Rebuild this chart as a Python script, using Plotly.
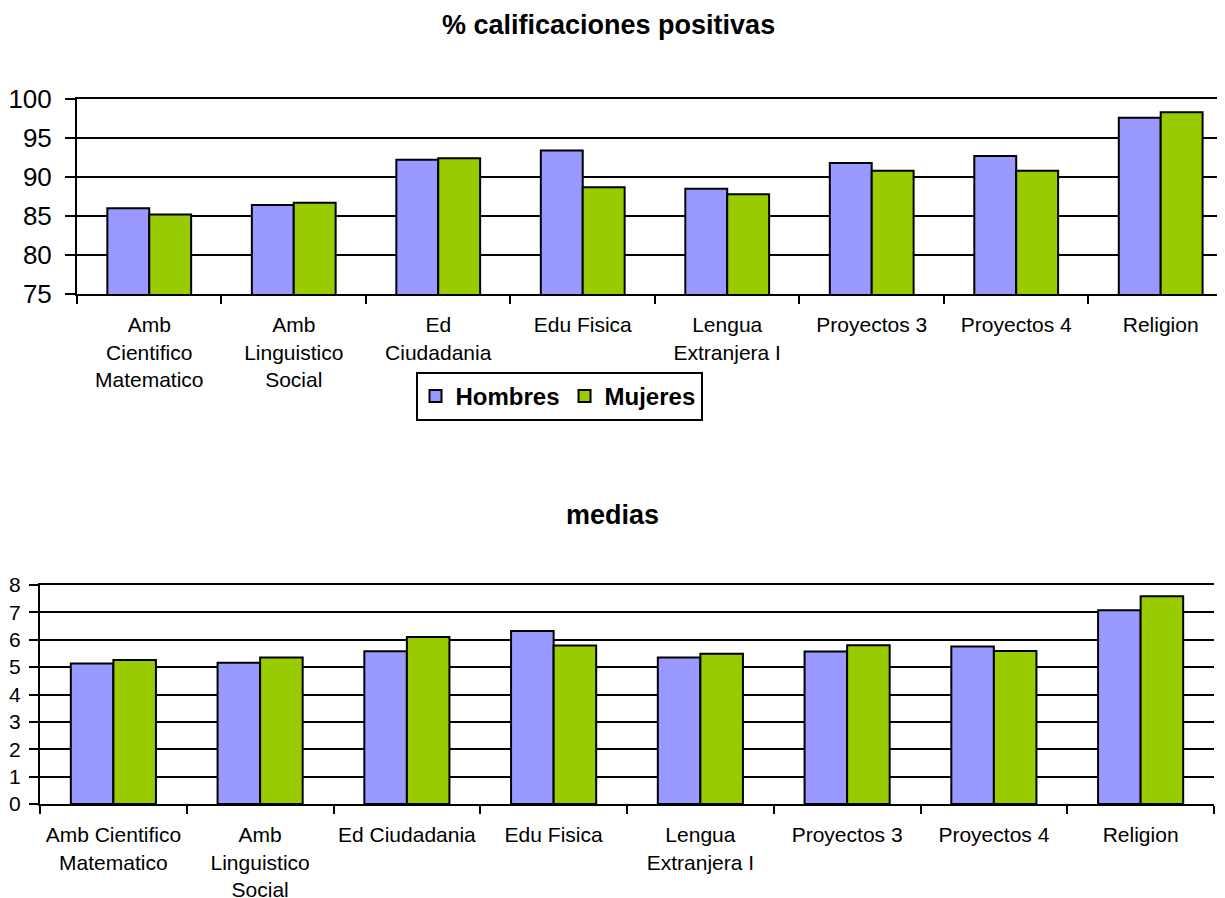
import plotly.graph_objects as go

# data
categories = ["Amb Cientifico Matematico", "Amb Linguistico Social", "Ed Ciudadania",
              "Edu Fisica", "Lengua Extranjera I", "Proyectos 3", "Proyectos 4", "Religion"]
labels_top = ["Amb<br>Cientifico<br>Matematico", "Amb<br>Linguistico<br>Social", "Ed<br>Ciudadania",
              "Edu Fisica", "Lengua<br>Extranjera I", "Proyectos 3", "Proyectos 4", "Religion"]
labels_bottom = ["Amb Cientifico<br>Matematico", "Amb<br>Linguistico<br>Social", "Ed Ciudadania",
                 "Edu Fisica", "Lengua<br>Extranjera I", "Proyectos 3", "Proyectos 4", "Religion"]

pos_hombres = [86.0, 86.4, 92.2, 93.4, 88.5, 91.8, 92.7, 97.6]
pos_mujeres = [85.2, 86.7, 92.4, 88.7, 87.8, 90.8, 90.8, 98.3]

med_hombres = [5.13, 5.16, 5.58, 6.32, 5.35, 5.57, 5.75, 7.08]
med_mujeres = [5.26, 5.35, 6.10, 5.79, 5.49, 5.80, 5.59, 7.59]

FONT = "Liberation Sans, Arial, sans-serif"
C_H = "#9999FF"
C_M = "#99CC00"

# the page body has an 8px margin, so the figure is shifted by that much
OFF = 8
W, H = 1225 - OFF, 898 - OFF

fig = go.Figure()

def add_pair(hom, muj, xa, ya, show):
    fig.add_trace(go.Bar(x=categories, y=hom, name="Hombres", marker_color=C_H,
                         marker_line=dict(color="black", width=2),
                         xaxis=xa, yaxis=ya, showlegend=show, legendgroup="h"))
    fig.add_trace(go.Bar(x=categories, y=muj, name="Mujeres", marker_color=C_M,
                         marker_line=dict(color="black", width=2),
                         xaxis=xa, yaxis=ya, showlegend=show, legendgroup="m"))

add_pair(pos_hombres, pos_mujeres, "x", "y", True)
add_pair(med_hombres, med_mujeres, "x2", "y2", False)

def fx(p):
    return (p - OFF) / W

def fy(p):
    return 1 - (p - OFF) / H

common_x = dict(type="category", showline=True, linecolor="black", linewidth=2,
                mirror=True, automargin=False, tickangle=0, ticklabelstandoff=11,
                ticks="outside", tickson="boundaries", ticklen=8, tickcolor="black",
                tickwidth=2, showgrid=False, tickfont=dict(family=FONT, size=21, color="black"))
common_y = dict(showline=True, linecolor="black", linewidth=2, ticks="outside",
                automargin=False, tickcolor="black", tickwidth=2, showgrid=True,
                gridcolor="black", gridwidth=2, zeroline=False)

fig.update_layout(
    width=W, height=H, autosize=False,
    margin=dict(l=0, r=0, t=0, b=0),
    plot_bgcolor="white", paper_bgcolor="white",
    barmode="group", bargap=0.42, bargroupgap=0,
    font=dict(family=FONT, color="black"),
    xaxis=dict(common_x, domain=[fx(77), 1.0], anchor="y", range=[-0.5, 7.445],
               tickvals=categories, ticktext=labels_top),
    yaxis=dict(common_y, domain=[fy(294), fy(99)], anchor="x",
               range=[75, 100], dtick=5, ticklen=10, ticklabelstandoff=8,
               tickfont=dict(family=FONT, size=26, color="black")),
    xaxis2=dict(common_x, domain=[fx(40), fx(1214)], anchor="y2", range=[-0.5, 7.5],
                tickvals=categories, ticktext=labels_bottom),
    yaxis2=dict(common_y, domain=[fy(804), fy(585)], anchor="x2",
                range=[0, 8], dtick=1, ticklen=9, ticklabelstandoff=4,
                tickfont=dict(family=FONT, size=21, color="black")),
    legend=dict(orientation="h", x=fx(559), y=fy(396.5), xanchor="center", yanchor="middle",
                bordercolor="black", borderwidth=2, bgcolor="white",
                font=dict(family=FONT, size=24, color="black", weight="bold"),
                itemwidth=30, tracegroupgap=0),
    annotations=[
        dict(text="<b>% calificaciones positivas</b>", x=fx(608), y=fy(25), xref="paper",
             yref="paper", xanchor="center", yanchor="middle", showarrow=False,
             font=dict(family=FONT, size=27, color="black")),
        dict(text="<b>medias</b>", x=fx(612), y=fy(515), xref="paper",
             yref="paper", xanchor="center", yanchor="middle", showarrow=False,
             font=dict(family=FONT, size=27, color="black")),
    ],
)

fig.write_html("out.html")
